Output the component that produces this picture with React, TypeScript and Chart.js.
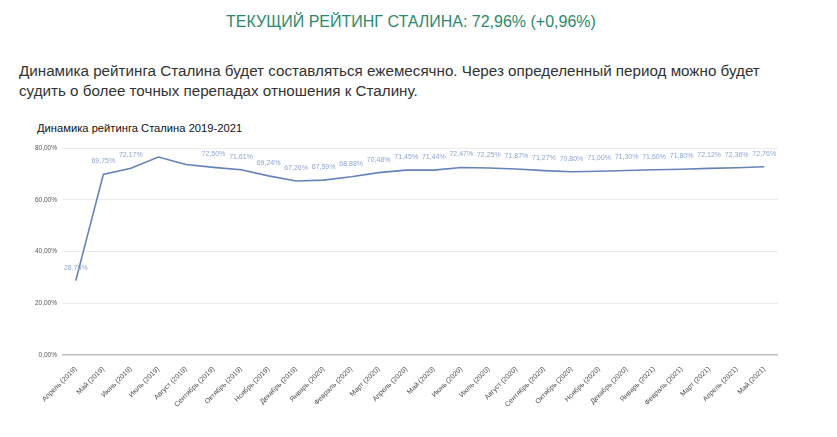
import React, { useEffect, useRef } from "react";
import { Chart, registerables } from "chart.js";

Chart.register(...registerables);

const months: string[] = [
  "Апрель (2019)", "Май (2019)", "Июнь (2019)", "Июль (2019)", "Август (2019)",
  "Сентябрь (2019)", "Октябрь (2019)", "Ноябрь (2019)", "Декабрь (2019)",
  "Январь (2020)", "Февраль (2020)", "Март (2020)", "Апрель (2020)", "Май (2020)",
  "Июнь (2020)", "Июль (2020)", "Август (2020)", "Сентябрь (2020)", "Октябрь (2020)",
  "Ноябрь (2020)", "Декабрь (2020)", "Январь (2021)", "Февраль (2021)", "Март (2021)",
  "Апрель (2021)", "Май (2021)",
];

const rating: number[] = [
  28.75, 69.75, 72.17, 76.5, 73.6, 72.5, 71.61, 69.24, 67.26, 67.59, 68.88, 70.48,
  71.45, 71.44, 72.47, 72.25, 71.87, 71.27, 70.8, 71.0, 71.3, 71.6, 71.8, 72.12,
  72.36, 72.76,
];

// which points carry a visible value label in the reference
const showLabel: boolean[] = [
  true, true, true, false, false, true, true, true, true, true, true, true,
  true, true, true, true, true, true, true, true, true, true, true, true,
  true, true,
];

const yTicks: number[] = [0, 20, 40, 60, 80];

const fmt = (v: number) => v.toFixed(2).replace(".", ",") + "%";

const labelPlugin = {
  id: "valueLabels",
  afterDatasetsDraw(chart: any) {
    const ctx = chart.ctx;
    const meta = chart.getDatasetMeta(0);
    ctx.save();
    ctx.font = "7px 'Liberation Sans', Arial, sans-serif";
    ctx.fillStyle = "#8ca5d2";
    ctx.textAlign = "center";
    ctx.textBaseline = "middle";
    meta.data.forEach((pt: any, i: number) => {
      if (!showLabel[i]) return;
      ctx.fillText(fmt(rating[i]), pt.x, pt.y - 13);
    });
    ctx.restore();
  },
};

export default function App() {
  const ref = useRef<HTMLCanvasElement | null>(null);

  useEffect(() => {
    if (!ref.current) return;
    const chart = new Chart(ref.current, {
      type: "line",
      data: {
        labels: months,
        datasets: [
          {
            data: rating,
            borderColor: "#6583ba",
            borderWidth: 1.6,
            pointRadius: 0,
            tension: 0,
            fill: false,
          },
        ],
      },
      options: {
        animation: false,
        responsive: false,
        maintainAspectRatio: false,
        layout: { padding: { top: 38, right: 59, left: 0, bottom: 0 } },
        plugins: {
          legend: { display: false },
          tooltip: { enabled: false },
          title: { display: false },
        },
        scales: {
          x: {
            offset: true,
            grid: { display: false },
            border: { display: false },
            afterFit: (s: any) => {
              s.height = 82;
            },
            ticks: {
              autoSkip: false,
              maxRotation: 45,
              minRotation: 45,
              padding: 2,
              color: "#4a4a4a",
              font: { size: 7, family: "'Liberation Sans', Arial, sans-serif" },
            },
          },
          y: {
            min: 0,
            max: 80,
            afterFit: (s: any) => {
              s.width = 62;
            },
            afterBuildTicks: (s: any) => {
              s.ticks = yTicks.map((v) => ({ value: v }));
            },
            border: { display: false },
            grid: {
              drawTicks: false,
              color: (c: any) => (c.tick && c.tick.value === 0 ? "#bdbdbd" : "#ebebeb"),
              lineWidth: (c: any) => (c.tick && c.tick.value === 0 ? 1.6 : 1),
            },
            ticks: {
              padding: 5,
              color: "#555555",
              font: { size: 6.5, family: "'Liberation Sans', Arial, sans-serif" },
              callback: (v: any) => fmt(Number(v)),
            },
          },
        },
      },
      plugins: [labelPlugin],
    });
    return () => chart.destroy();
  }, []);

  return (
    <div
      style={{
        position: "fixed",
        left: 0,
        top: 0,
        width: 837,
        height: 437,
        background: "#ffffff",
        fontFamily: "'Liberation Sans', Arial, sans-serif",
        overflow: "hidden",
      }}
    >
      <div
        style={{
          position: "absolute",
          left: 0,
          width: 822,
          top: 12,
          textAlign: "center",
          fontSize: 16,
          lineHeight: "20px",
          color: "#2b8a6e",
        }}
      >
        ТЕКУЩИЙ РЕЙТИНГ СТАЛИНА: 72,96% (+0,96%)
      </div>
      <div
        style={{
          position: "absolute",
          left: 19,
          top: 61,
          width: 790,
          fontSize: 15.2,
          lineHeight: "20px",
          color: "#333333",
        }}
      >
        Динамика рейтинга Сталина будет составляться ежемесячно. Через определенный период можно будет
        <br />
        судить о более точных перепадах отношения к Сталину.
      </div>
      <div
        style={{
          position: "absolute",
          left: 37,
          top: 120,
          fontSize: 11.2,
          lineHeight: "16px",
          color: "#111111",
          whiteSpace: "nowrap",
        }}
      >
        Динамика рейтинга Сталина 2019-2021
      </div>
      <canvas
        ref={ref}
        width={837}
        height={327}
        style={{ position: "absolute", left: 0, top: 110, width: 837, height: 327 }}
      />
    </div>
  );
}
